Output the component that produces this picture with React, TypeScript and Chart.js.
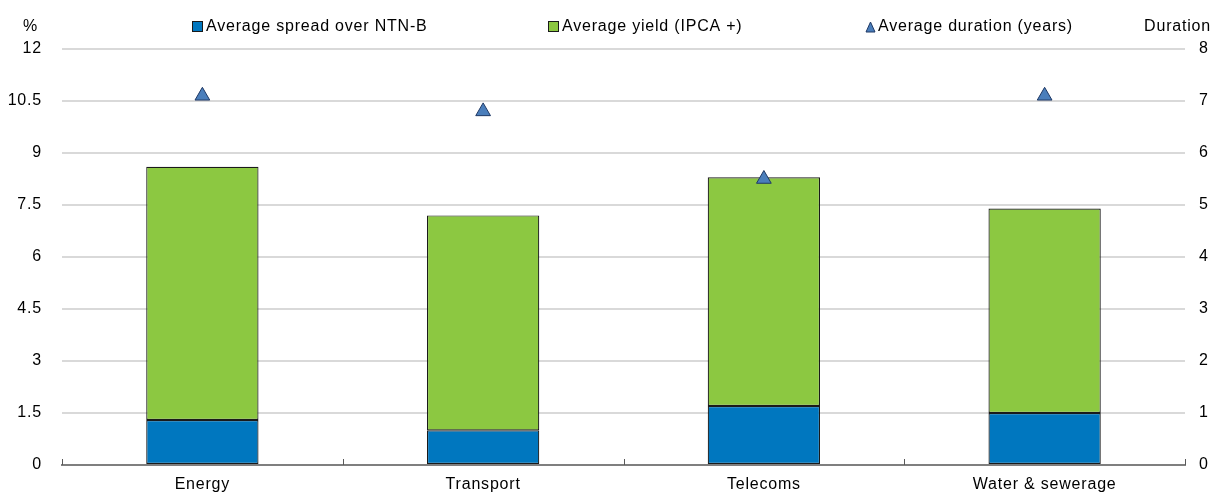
import React, { useEffect, useRef } from 'react';
import { Chart, registerables } from 'chart.js';

Chart.register(...registerables);

const categories = ['Energy', 'Transport', 'Telecoms', 'Water & sewerage'];
const spreadValues = [1.3, 1.0, 1.7, 1.5];
const yieldValues = [7.3, 6.2, 6.6, 5.9];
const durationValues = [7.1, 6.8, 5.5, 7.1];
const leftTicks = [0, 1.5, 3, 4.5, 6, 7.5, 9, 10.5, 12];
const leftTitle = '%';
const rightTitle = 'Duration';

const FONT = '"Liberation Sans", Arial, sans-serif';
const SPACING = '0.8px';

// legend item x positions (layout only)
const legendX = [192, 548, 866];
const legendY = 27;

const extrasPlugin = {
  id: 'extras',
  beforeDraw(chart: any) {
    (chart.ctx as any).letterSpacing = SPACING;
  },
  afterDraw(chart: any) {
    const ctx = chart.ctx;
    const y = chart.scales.y;
    const x = chart.scales.x;
    ctx.save();
    (ctx as any).letterSpacing = SPACING;
    ctx.fillStyle = '#000';
    ctx.font = `16px ${FONT}`;
    ctx.textBaseline = 'middle';
    ctx.textAlign = 'right';
    ctx.fillText(leftTitle, y.right - 24, legendY);
    ctx.fillText(rightTitle, chart.width - 2, legendY);

    // legend
    ctx.textAlign = 'left';
    chart.data.datasets.forEach((ds: any, i: number) => {
      const lx = legendX[i];
      if (ds.type === 'line') {
        ctx.beginPath();
        ctx.moveTo(lx, legendY + 5);
        ctx.lineTo(lx + 9, legendY + 5);
        ctx.lineTo(lx + 4.5, legendY - 5);
        ctx.closePath();
        ctx.fillStyle = ds.pointBackgroundColor;
        ctx.fill();
        ctx.strokeStyle = ds.pointBorderColor;
        ctx.lineWidth = 1;
        ctx.stroke();
        ctx.fillStyle = '#000';
        ctx.fillText(ds.label, lx + 12, legendY);
      } else {
        ctx.fillStyle = ds.backgroundColor;
        ctx.fillRect(lx + 0.5, legendY - 5.5, 10, 10);
        ctx.strokeStyle = '#1a1a1a';
        ctx.lineWidth = 1;
        ctx.strokeRect(lx + 0.5, legendY - 5.5, 10, 10);
        ctx.fillStyle = '#000';
        ctx.fillText(ds.label, lx + 14, legendY);
      }
    });

    // small inner ticks at category boundaries
    ctx.strokeStyle = '#595959';
    ctx.lineWidth = 1;
    const n = categories.length;
    const w = (x.right - x.left) / n;
    for (let i = 0; i <= n; i++) {
      const px = Math.round(x.left + i * w) + 0.5;
      ctx.beginPath();
      ctx.moveTo(px, x.top);
      ctx.lineTo(px, x.top - 6);
      ctx.stroke();
    }
    ctx.restore();
  },
};

export default function App() {
  const ref = useRef<HTMLCanvasElement>(null);
  useEffect(() => {
    document.body.style.margin = '0';
    const barCommon = {
      type: 'bar',
      borderColor: '#1a1a1a',
      borderWidth: 1.2,
      borderSkipped: false,
      stack: 's',
      yAxisID: 'y',
      order: 1,
      barPercentage: 0.4,
      categoryPercentage: 1,
    };
    const chart = new Chart(ref.current!, {
      type: 'bar',
      data: {
        labels: categories,
        datasets: [
          {
            ...barCommon,
            label: 'Average spread over NTN-B',
            data: spreadValues,
            backgroundColor: '#0077BF',
          } as any,
          {
            ...barCommon,
            label: 'Average yield (IPCA +)',
            data: yieldValues,
            backgroundColor: '#8CC841',
          } as any,
          {
            type: 'line',
            label: 'Average duration (years)',
            data: durationValues,
            showLine: false,
            yAxisID: 'y1',
            order: 0,
            pointStyle: 'triangle',
            pointRadius: 8.5,
            pointBackgroundColor: '#4A7EBB',
            pointBorderColor: '#1F3864',
            pointBorderWidth: 1,
            backgroundColor: '#4A7EBB',
            borderColor: '#1F3864',
            borderWidth: 1,
          } as any,
        ],
      },
      options: {
        animation: false,
        responsive: false,
        maintainAspectRatio: false,
        layout: { padding: { top: 49, right: 0, left: 0, bottom: 0 } },
        plugins: {
          tooltip: { enabled: false },
          legend: { display: false },
        },
        scales: {
          x: {
            stacked: true,
            grid: { display: false, drawTicks: false },
            border: { display: true, color: '#7f7f7f', width: 2 },
            afterFit: (s: any) => { s.height = 28; },
            ticks: { font: { family: FONT, size: 16 }, color: '#000', padding: 10 },
          },
          y: {
            stacked: true,
            position: 'left',
            min: 0,
            max: 12,
            afterBuildTicks: (s: any) => {
              s.ticks = leftTicks.map((v) => ({ value: v }));
            },
            afterFit: (s: any) => {
              s.width = 62;
              s.paddingTop = 4;
              s.paddingBottom = 4;
            },
            grid: { color: '#d9d9d9', lineWidth: 2, drawTicks: false },
            border: { display: false },
            ticks: {
              font: { family: FONT, size: 16 },
              color: '#000',
              padding: 20,
              callback: (v: any) => String(v),
            },
          },
          y1: {
            position: 'right',
            min: 0,
            max: 8,
            afterFit: (s: any) => {
              s.width = 28;
              s.paddingTop = 4;
              s.paddingBottom = 4;
            },
            grid: { display: false, drawTicks: false },
            border: { display: false },
            ticks: {
              stepSize: 1,
              font: { family: FONT, size: 16 },
              color: '#000',
              padding: 14,
            },
          },
        },
      },
      plugins: [extrasPlugin],
    });
    return () => chart.destroy();
  }, []);
  return (
    <div style={{ width: 1213, height: 493 }}>
      <canvas ref={ref} width={1213} height={493} style={{ width: 1213, height: 493 }} />
    </div>
  );
}
